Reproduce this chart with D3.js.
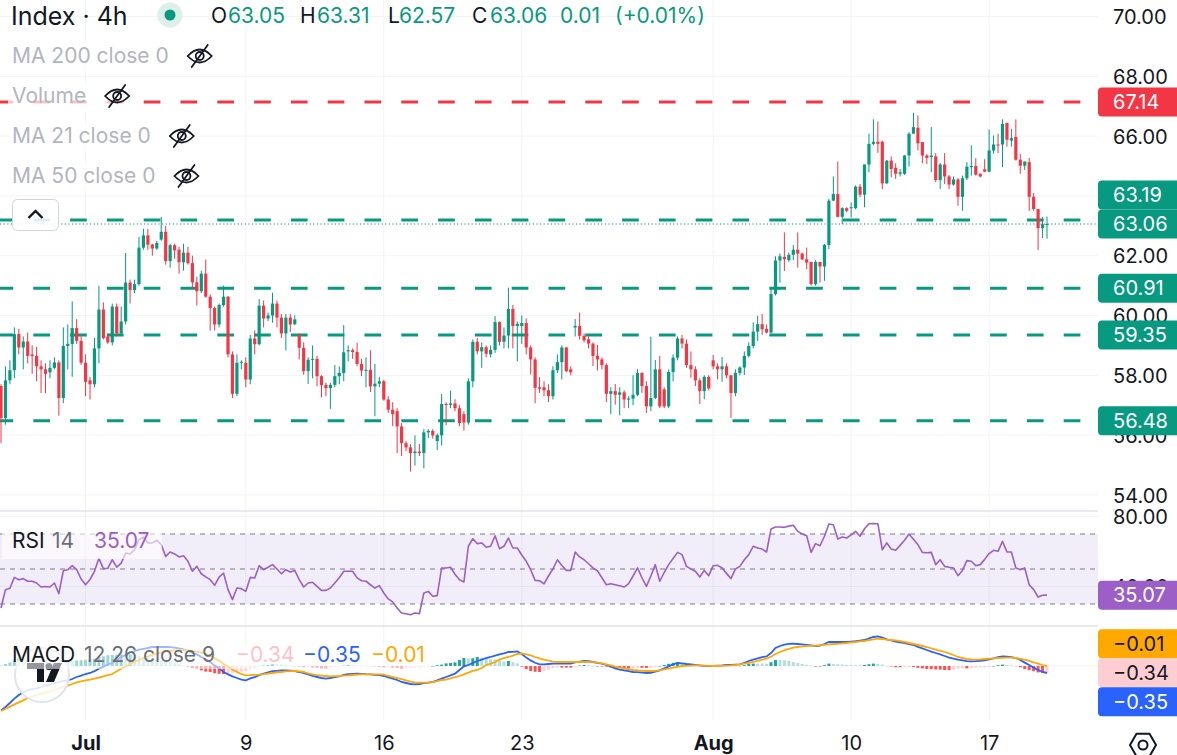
<!DOCTYPE html>
<html>
<head>
<meta charset="utf-8">
<script src="https://d3js.org/d3.v7.min.js"></script>
<style>
html, body { margin: 0; padding: 0; background: #fff; }
svg { display: block; font-family: Inter, Roboto, "Noto Sans", sans-serif; }
</style>
</head>
<body>
<svg id="chart"></svg>
<script>
"use strict";

// ---------- data (4h candles) ----------
const open = [
57.64,56.57,57.83,58.17,59.38,58.93,59.13,58.7,58.65,58.3,
58.2,58.1,58.25,58.43,57.24,58.98,59.05,59.58,59.15,58.42,
57.83,57.7,58.9,60.2,59.3,59.1,60.3,59.4,59.8,61.1,
60.85,61.05,62.27,62.68,62.37,62.24,62.54,62.8,61.82,62.35,
62.2,61.78,62.1,61.75,61.11,60.81,61.4,60.63,60.25,59.7,
60.35,60.63,58.7,57.38,58.42,58.42,57.86,59.23,59.04,60.33,
59.9,60.0,60.4,59.93,59.4,59.93,59.7,59.35,58.92,58.14,
58.52,58.55,57.97,57.68,57.57,57.68,57.97,58.08,58.8,58.84,
58.78,58.38,58.16,58.18,57.63,57.72,57.8,57.19,56.85,56.8,
56.29,55.73,55.59,55.4,55.45,55.4,56.09,56.14,55.8,55.99,
57.04,57.01,57.06,56.9,56.7,56.42,57.8,59.12,58.8,58.94,
58.7,58.85,59.78,59.12,59.33,60.22,59.65,59.65,
59.75,58.93,58.53,57.6,57.6,57.5,57.3,58.17,58.44,58.93,
58.2,59.6,59.65,59.32,59.2,59.06,58.65,58.53,58.34,57.38,
57.47,57.35,57.43,57.19,57.22,57.35,58.08,57.64,56.96,57.24,
58.2,57.53,56.96,58.11,58.59,59.23,59.06,58.34,58.2,57.83,
57.47,57.95,58.5,58.3,58.2,58.3,58.0,57.41,58.08,58.26,
58.65,58.98,59.46,59.71,59.55,59.43,60.72,61.84,61.96,
61.85,62.03,62.2,62.07,61.88,61.79,61.05,61.79,61.64,62.36,
63.84,64.06,63.30,63.59,63.59,63.59,64.31,64.04,65.05,65.74,
65.81,65.81,64.42,65.18,64.94,64.74,64.74,65.35,66.08,66.28,
65.80,65.35,65.30,65.32,64.53,65.05,64.65,64.38,64.55,63.97,
64.59,64.96,65.00,64.74,64.89,64.81,65.52,65.72,65.72,66.44,
65.85,65.97,65.21,65.01,65.13,63.97,63.56,62.92,63.05
];
const high = [
57.7,58.3,58.5,59.6,59.55,59.3,59.43,59.0,58.95,58.5,
58.4,58.5,58.6,58.5,59.6,59.7,60.47,59.88,59.3,58.7,
57.95,59.25,61.0,60.44,59.4,60.4,60.4,60.3,62.09,61.2,
61.2,62.63,62.9,62.9,62.4,62.5,63.3,63.0,62.4,62.4,
62.3,62.4,62.3,62.0,61.3,61.5,61.87,60.7,60.3,60.4,
61.0,60.65,58.8,58.7,58.5,58.6,59.35,59.5,60.55,60.5,
60.1,60.76,60.5,60.05,60.05,60.05,60.0,59.4,59.1,58.6,
59.0,58.65,58.0,57.75,57.75,58.34,58.3,59.68,59.0,58.9,
59.09,58.55,58.6,58.84,58.38,57.95,57.85,57.3,57.1,56.9,
56.4,55.8,55.7,55.99,55.7,56.2,56.2,56.2,56.05,57.37,
57.1,57.49,57.2,57.0,56.8,57.9,59.2,59.25,59.1,59.0,
59.0,59.98,59.8,59.6,60.93,60.35,59.8,60.0,
59.9,59.0,58.6,57.94,57.8,57.7,58.3,58.7,59.0,58.95,
58.3,59.88,60.1,59.4,59.3,59.1,59.02,58.6,58.4,57.6,
57.71,57.6,57.5,57.3,58.0,58.2,58.1,57.8,59.29,58.51,
58.65,57.6,58.2,58.7,59.3,59.35,59.2,58.8,58.3,57.9,
58.0,58.0,58.68,58.4,58.61,58.4,58.0,58.2,58.3,58.8,
59.1,59.77,59.99,60.05,59.7,60.9,61.98,62.07,62.78,
62.1,62.36,62.78,62.1,62.27,61.8,61.85,61.8,62.4,63.9,
64.65,65.15,63.62,63.62,63.78,64.35,64.4,65.05,66.08,66.56,
66.49,65.85,65.2,65.32,65.09,64.9,65.37,66.13,66.78,66.69,
65.8,65.4,66.30,65.43,65.1,65.43,64.7,64.65,64.6,64.68,
65.13,65.69,65.26,64.75,65.23,66.22,66.02,66.08,66.56,66.45,
66.25,66.56,65.41,65.15,65.27,64.1,63.56,63.30,63.31
];
const low = [
55.73,56.35,57.7,57.9,58.7,58.2,58.4,58.05,57.8,57.41,
57.4,57.9,58.2,56.65,57.07,58.2,57.95,59.05,58.35,57.3,
57.19,57.6,58.4,59.2,59.05,59.0,59.3,59.35,59.7,60.4,
60.75,61.0,62.2,62.2,62.0,62.2,62.5,61.7,61.6,61.9,
61.4,61.5,61.7,60.9,60.33,60.75,60.6,59.49,59.5,59.6,
60.3,58.6,57.24,57.3,58.2,57.6,57.7,58.7,59.0,59.6,
59.81,59.76,59.6,59.25,58.83,59.45,59.7,58.53,58.02,57.71,
57.9,57.63,57.26,57.3,56.88,57.6,57.7,57.8,58.47,58.55,
58.3,57.97,57.6,57.44,56.63,57.6,57.15,56.74,56.3,55.4,
55.3,55.47,54.78,54.98,55.3,54.89,55.9,55.88,55.5,55.65,
56.33,56.9,56.8,56.3,56.15,56.35,57.6,58.7,58.25,58.6,
58.6,58.75,59.0,58.9,58.9,58.9,58.47,59.05,
58.7,58.03,57.07,57.41,57.3,57.11,57.19,58.08,57.86,58.1,
58.0,59.3,59.2,59.1,58.9,58.31,58.16,58.2,57.1,56.7,
57.02,56.66,56.9,56.9,57.0,57.3,57.41,56.74,56.8,57.2,
56.9,56.9,56.9,57.8,58.5,58.9,58.25,57.92,57.64,57.04,
57.2,57.5,58.2,57.86,57.78,57.9,56.57,57.3,58.0,58.01,
58.59,58.9,59.15,59.35,59.4,59.4,60.67,61.1,61.49,
61.8,61.85,61.6,61.85,61.55,61.0,61.0,61.1,61.16,62.22,
63.84,63.28,63.06,63.45,63.28,63.55,63.95,63.62,64.79,65.69,
65.44,64.23,64.4,64.62,64.57,64.65,64.7,64.98,66.08,65.52,
65.09,65.07,64.79,64.46,64.23,64.40,64.23,64.34,63.67,63.50,
64.53,64.68,64.68,64.62,64.79,64.79,65.41,65.43,64.96,65.65,
65.65,65.18,64.74,64.87,63.50,63.50,62.19,62.59,62.57
];
const close = [
56.57,57.83,58.17,59.38,58.93,59.13,58.65,58.65,58.3,58.2,
58.05,58.25,58.43,57.24,58.98,59.05,59.58,59.15,58.42,57.78,
57.7,58.9,60.2,59.24,59.1,60.3,59.4,59.8,61.1,60.85,
61.05,62.27,62.68,62.37,62.24,62.43,62.8,61.82,62.35,62.18,
61.78,62.1,61.75,61.11,60.81,61.4,60.63,60.25,59.7,60.35,
60.63,58.7,57.38,58.42,58.45,57.86,59.23,59.04,60.33,59.9,
60.0,60.4,59.93,59.4,59.93,59.7,59.87,58.92,58.14,58.52,
58.55,57.97,57.67,57.57,57.68,57.97,58.08,58.77,58.84,58.78,
58.38,58.16,58.18,57.63,57.72,57.8,57.19,56.85,56.7,56.29,
55.73,55.59,55.4,55.45,55.4,56.09,56.14,55.99,56.0,57.04,
57.01,57.06,56.9,56.4,56.42,57.8,59.12,58.8,58.94,58.72,
58.85,59.78,59.12,59.33,60.22,59.65,59.72,59.75,
58.93,58.53,57.58,57.55,57.5,57.3,58.17,58.44,58.93,58.14,
58.1,59.65,59.32,59.17,59.06,58.65,58.53,58.34,57.38,57.47,
57.35,57.43,57.19,57.22,57.35,58.08,57.64,56.96,57.24,58.2,
56.96,56.96,58.11,58.59,59.23,59.06,58.34,58.2,57.83,57.47,
57.95,57.56,58.3,58.2,58.3,58.0,57.41,58.08,58.26,58.65,
58.98,59.46,59.71,59.54,59.43,60.72,61.84,61.98,61.88,
62.03,62.2,62.07,61.88,61.77,61.05,61.79,61.64,62.36,63.84,
64.06,63.30,63.59,63.5,63.62,64.31,64.04,65.05,65.74,65.81,
65.74,64.42,65.18,64.90,64.74,64.79,65.35,66.08,66.30,65.76,
65.35,65.27,65.35,64.53,65.05,64.65,64.38,64.55,63.97,64.59,
64.98,65.0,64.71,64.65,64.81,65.52,65.72,65.69,66.41,65.88,
65.93,65.21,65.01,65.15,63.97,63.56,62.92,63.052,63.06
];

// RSI 14, one value per candle
const rsi = [
27.7,38.2,39,45.2,43.9,44.5,43,43,42,39.7,
40,39.7,42,35.9,49,49.6,51.9,49.6,44.3,41,
44,48.7,56.1,50.2,50.4,55.3,51.1,53.4,59.1,58.6,
61,66.8,68.3,64.9,64.9,66.4,63.9,57.2,59.7,58.6,
56.9,57.6,54.4,48.7,51.5,47.3,45.5,43.9,40.7,45.4,
47.7,38.2,32.5,39.1,38.8,37.2,45.2,44.9,51.9,49.6,
51,52.5,50,47.3,49.6,48.3,49.2,43.9,39.7,42,
42.4,40.1,37.8,37.8,39.1,42,45,48.7,48.7,48.7,
44.9,43.3,43,41,39.1,40.5,36.3,32.9,31.2,27.7,
24.9,24.4,23.9,24.9,24.5,36.3,37.2,34.4,34.8,50.6,
50.6,51,47,43.9,42.6,63,67.3,64.5,64.9,62.4,
63,69,61.6,63,67.7,62,62,58,54.4,49.6,
43.5,43.3,41.5,46,50,55.3,52,49.2,49.2,59.7,
56.9,55.3,53,50.6,49,45,41,41.6,41,40.4,
39.7,41.6,46,50.6,45,40.1,46,52.5,43,48,
52.5,56,59.5,58.2,51.5,50,48.7,45.4,49.2,46.2,
51.9,52.1,50.6,47.5,44.5,50,51.5,55.3,58.2,63,
62,61.4,59.7,72.9,74,74,73.8,74.5,75,71.5,
70,69,59.5,64.5,63.3,68.7,75.7,75.3,67.1,68.3,
67.7,69.5,71.5,68.7,73,75.9,76,75.9,61,64.9,
61.4,60.7,63.5,66.4,70,67,63.9,59.5,59.3,59.5,
52.5,55.3,51.5,51,50.6,46.2,49.2,54.8,54.4,51.9,
52.5,55.5,58.8,60.7,60.1,65.8,59.7,59.7,50.6,49.6,
50.6,41,38.2,34,35,35.07
];

// MACD 12 26 close 9: macd line and signal line, one value per candle
const macd = [
-2.22,-2.05,-1.85,-1.63,-1.45,-1.32,-1.22,-1.15,-1.12,-1.05,
-0.97,-0.92,-0.85,-0.8,-0.74,-0.72,-0.65,-0.55,-0.48,-0.4,
-0.35,-0.26,-0.13,-0.03,0.08,0.15,0.3,0.45,0.55,0.68,
0.74,0.82,0.86,0.9,0.95,0.96,0.95,0.95,0.94,0.92,
0.88,0.83,0.75,0.66,0.58,0.45,0.34,0.2,0.02,-0.12,
-0.3,-0.42,-0.52,-0.6,-0.68,-0.72,-0.62,-0.56,-0.46,-0.38,
-0.32,-0.26,-0.24,-0.22,-0.22,-0.23,-0.25,-0.3,-0.36,-0.42,
-0.5,-0.55,-0.6,-0.63,-0.6,-0.56,-0.52,-0.45,-0.41,-0.39,
-0.38,-0.39,-0.41,-0.42,-0.44,-0.46,-0.5,-0.57,-0.63,-0.7,
-0.8,-0.85,-0.9,-0.92,-0.9,-0.85,-0.83,-0.8,-0.72,-0.63,
-0.55,-0.47,-0.38,-0.2,-0.02,0.05,0.15,0.25,0.32,0.4,
0.45,0.52,0.58,0.63,0.7,0.71,0.73,0.6,0.42,0.28,
0.16,0.08,0.08,0.1,0.12,0.12,0.12,0.12,0.12,0.18,
0.22,0.25,0.24,0.2,0.16,0.12,0.05,-0.03,-0.12,-0.18,
-0.22,-0.26,-0.3,-0.31,-0.33,-0.35,-0.34,-0.28,-0.22,-0.12,
-0.02,0.08,0.15,0.13,0.1,0.08,0.06,0.03,0.01,0,
0,0.02,0.03,0.05,0.06,0.07,0.08,0.16,0.25,0.32,
0.38,0.44,0.48,0.65,0.9,1.0,1.07,1.11,1.12,1.1,
1.08,1.06,1.03,1.0,1.02,1.1,1.2,1.2,1.2,1.2,
1.2,1.22,1.24,1.27,1.3,1.38,1.45,1.48,1.42,1.33,
1.28,1.22,1.18,1.15,1.1,1.05,0.96,0.88,0.8,0.72,
0.65,0.58,0.5,0.42,0.37,0.32,0.28,0.24,0.23,0.24,
0.26,0.28,0.33,0.38,0.44,0.48,0.47,0.44,0.4,0.3,
0.17,0.05,-0.08,-0.2,-0.3,-0.35
];
const signal = [
-2.25,-2.15,-2.03,-1.92,-1.82,-1.72,-1.6,-1.52,-1.45,-1.39,
-1.33,-1.28,-1.2,-1.13,-1.05,-0.98,-0.9,-0.82,-0.77,-0.72,
-0.68,-0.63,-0.58,-0.52,-0.46,-0.4,-0.26,-0.13,-0.02,0.1,
0.2,0.3,0.4,0.48,0.55,0.62,0.68,0.72,0.75,0.78,
0.79,0.79,0.78,0.76,0.72,0.67,0.62,0.5,0.38,0.27,
0.1,-0.02,-0.18,-0.3,-0.4,-0.47,-0.46,-0.44,-0.43,-0.41,
-0.38,-0.35,-0.32,-0.3,-0.27,-0.26,-0.25,-0.27,-0.3,-0.37,
-0.42,-0.46,-0.48,-0.5,-0.52,-0.51,-0.5,-0.48,-0.47,-0.45,
-0.43,-0.42,-0.42,-0.42,-0.42,-0.42,-0.43,-0.5,-0.55,-0.6,
-0.66,-0.72,-0.78,-0.82,-0.83,-0.83,-0.82,-0.8,-0.76,-0.7,
-0.68,-0.62,-0.56,-0.5,-0.42,-0.33,-0.24,-0.2,-0.1,0.05,
0.12,0.2,0.32,0.4,0.45,0.52,0.6,0.63,0.58,0.53,
0.45,0.38,0.32,0.27,0.22,0.2,0.2,0.2,0.2,0.2,
0.2,0.2,0.2,0.19,0.17,0.13,0.08,0.03,-0.03,-0.08,
-0.12,-0.16,-0.2,-0.22,-0.24,-0.25,-0.25,-0.24,-0.22,-0.17,
-0.13,-0.08,-0.04,0,0.01,0.02,0.03,0.03,0.02,0.01,
0,0,0.01,0.02,0.03,0.05,0.08,0.12,0.15,0.2,
0.26,0.32,0.37,0.46,0.6,0.7,0.78,0.86,0.92,0.95,
0.98,1.0,1.01,1.02,1.04,1.06,1.08,1.1,1.11,1.13,
1.15,1.18,1.2,1.23,1.25,1.29,1.33,1.37,1.35,1.32,
1.3,1.28,1.24,1.2,1.15,1.1,1.05,1.0,0.95,0.88,
0.82,0.76,0.7,0.63,0.55,0.45,0.4,0.36,0.33,0.32,
0.33,0.35,0.37,0.38,0.4,0.41,0.42,0.42,0.4,0.36,
0.32,0.26,0.18,0.12,0.05,-0.01
];

// time axis: candle index of each label
const tickIdx = [19, 55, 86, 117, 160, 191, 222];
const tickText = ["Jul", "9", "16", "23", "Aug", "10", "17"];

const priceTicks = [54, 56, 58, 60, 62, 64, 66, 68, 70];
const rsiTicks = [40, 80];
const rsiLevels = [30, 50, 70];
const levels = [67.14, 63.19, 60.91, 59.35, 56.48];
const maLegend = ["MA 200 close 0", "Volume", "MA 21 close 0", "MA 50 close 0"];

// ---------- layout / style ----------
const W = 1177, H = 755;
const PLOT_R = 1098;
const UP = "#089981", DOWN = "#f23645";
const GRID = "#f0f3fa", TEXT = "#131722", MUTED = "#6a6d78";
const RSI_COLOR = "#9c5fc8", MACD_COLOR = "#2962ff", SIGNAL_COLOR = "#ffa800";
const levelColors = [DOWN, UP, UP, UP, UP];
const LABEL_H = 29;
const FS = 20;
const LEG_FS = 21;
const fmt = d3.format(".2f");

const svg = d3.select("#chart").attr("width", W).attr("height", H);

const N = close.length;
const x = d3.scaleLinear().domain([0, N - 1]).range([1, 1047]);
const yP = d3.scaleLinear().domain([54, 70]).range([494.9, 16.5]);
const yR = d3.scaleLinear().domain([30, 70]).range([604, 534]);
const yM = d3.scaleLinear().domain([-1, 1]).range([686, 646]);
const candleW = 3.2;

function eyeSlash(g, cx, cy) {
    const ic = g.append("g").attr("fill", "none").attr("stroke", TEXT)
        .attr("stroke-width", 1.8).attr("stroke-linecap", "round");
    ic.append("path")
        .attr("d", `M${cx - 12},${cy} Q${cx},${cy - 13} ${cx + 12},${cy} Q${cx},${cy + 13} ${cx - 12},${cy}`);
    ic.append("circle").attr("cx", cx).attr("cy", cy).attr("r", 4);
    ic.append("line").attr("x1", cx - 8).attr("y1", cy + 11).attr("x2", cx + 8).attr("y2", cy - 11);
}

// keep the anchor label in place and stack the others around it
function stackLabels(labels, anchor) {
    labels.sort((a, b) => a.y - b.y);
    const k = labels.indexOf(anchor);
    for (let i = k - 1; i >= 0; i--) {
        labels[i].y = Math.min(labels[i].y, labels[i + 1].y - LABEL_H);
    }
    for (let i = k + 1; i < labels.length; i++) {
        labels[i].y = Math.max(labels[i].y, labels[i - 1].y + LABEL_H);
    }
    return labels;
}

function drawLabels(g, labels) {
    for (let l of labels) {
        const t = l.y - LABEL_H / 2, b = l.y + LABEL_H / 2;
        g.append("path")
            .attr("d", `M${PLOT_R + 4},${t} H${W} V${b} H${PLOT_R + 4} Q${PLOT_R},${b} ${PLOT_R},${b - 4} V${t + 4} Q${PLOT_R},${t} ${PLOT_R + 4},${t} Z`)
            .attr("fill", l.fill);
        g.append("text")
            .attr("x", 1113).attr("y", l.y).attr("dy", "0.36em")
            .attr("font-size", FS).attr("fill", l.color)
            .text(l.text);
    }
}

// a legend line: pieces of [text, colour, left x]
function textRow(g, y0, pieces) {
    const t = g.append("text").attr("y", y0).attr("font-size", LEG_FS);
    for (let [s, c, px] of pieces) {
        t.append("tspan").attr("x", px).attr("fill", c).text(s);
    }
    return t;
}

function run() {
    // ---- grid ----
    const grid = svg.append("g").attr("stroke", GRID).attr("stroke-width", 1);
    for (let t of tickIdx) {
        grid.append("line").attr("x1", x(t)).attr("x2", x(t)).attr("y1", 0).attr("y2", 720);
    }
    for (let p of priceTicks) {
        grid.append("line").attr("x1", 0).attr("x2", PLOT_R).attr("y1", yP(p)).attr("y2", yP(p));
    }
    for (let r of rsiTicks) {
        grid.append("line").attr("x1", 0).attr("x2", PLOT_R).attr("y1", yR(r)).attr("y2", yR(r));
    }
    grid.append("line").attr("x1", 0).attr("x2", PLOT_R).attr("y1", yM(0)).attr("y2", yM(0));

    // pane separators
    svg.append("g").attr("stroke", "#e0e3eb").attr("stroke-width", 1.5)
        .selectAll("line").data([511, 626]).join("line")
        .attr("x1", 0).attr("x2", PLOT_R).attr("y1", d => d).attr("y2", d => d);

    // ---- horizontal levels ----
    svg.append("g").selectAll("line").data(levels).join("line")
        .attr("x1", 0).attr("x2", PLOT_R)
        .attr("y1", d => yP(d)).attr("y2", d => yP(d))
        .attr("stroke", (d, i) => levelColors[i])
        .attr("stroke-width", 3)
        .attr("stroke-dasharray", "16.7 20.1")
        .attr("stroke-dashoffset", 3.5);

    // ---- candles ----
    const candles = svg.append("g");
    for (let i = 0; i < N; i++) {
        const col = close[i] >= open[i] ? UP : DOWN;
        candles.append("line")
            .attr("x1", x(i)).attr("x2", x(i))
            .attr("y1", yP(high[i])).attr("y2", yP(low[i]))
            .attr("stroke", col).attr("stroke-width", 1);
        const top = yP(Math.max(open[i], close[i]));
        const bot = yP(Math.min(open[i], close[i]));
        candles.append("rect")
            .attr("x", x(i) - candleW / 2).attr("width", candleW)
            .attr("y", top).attr("height", Math.max(1, bot - top))
            .attr("fill", col);
    }

    // current price line
    const last = close[N - 1];
    const lastCol = close[N - 1] >= open[N - 1] ? UP : DOWN;
    svg.append("line")
        .attr("x1", 0).attr("x2", PLOT_R).attr("y1", yP(last)).attr("y2", yP(last))
        .attr("stroke", lastCol).attr("stroke-width", 1).attr("stroke-dasharray", "1.2 2.4");

    // ---- RSI pane ----
    svg.append("rect")
        .attr("x", 0).attr("width", PLOT_R)
        .attr("y", yR(70)).attr("height", yR(30) - yR(70))
        .attr("fill", "rgba(126,87,194,0.1)");
    svg.append("g").selectAll("line").data(rsiLevels).join("line")
        .attr("x1", 0).attr("x2", PLOT_R)
        .attr("y1", d => yR(d)).attr("y2", d => yR(d))
        .attr("stroke", "#787b86").attr("stroke-width", 1).attr("stroke-dasharray", "5 5");
    svg.append("path")
        .datum(rsi)
        .attr("fill", "none").attr("stroke", RSI_COLOR).attr("stroke-width", 1.6)
        .attr("stroke-linejoin", "round")
        .attr("d", d3.line().x((d, i) => x(i)).y(d => yR(d)));

    // ---- MACD pane ----
    const hist = macd.map((m, i) => m - signal[i]);
    svg.append("g").selectAll("rect").data(hist).join("rect")
        .attr("x", (d, i) => x(i) - 1.5).attr("width", 3)
        .attr("y", d => Math.min(yM(d), yM(0)))
        .attr("height", d => Math.max(0.5, Math.abs(yM(d) - yM(0))))
        .attr("fill", (d, i) => {
            const prev = i > 0 ? hist[i - 1] : d;
            if (d >= 0) return prev < d ? "#26a69a" : "#b2dfdb";
            return prev < d ? "#ffcdd2" : "#ff5252";
        });
    const lineM = d3.line().x((d, i) => x(i)).y(d => yM(d));
    svg.append("path").datum(macd)
        .attr("fill", "none").attr("stroke", MACD_COLOR).attr("stroke-width", 1.8).attr("d", lineM);
    svg.append("path").datum(signal)
        .attr("fill", "none").attr("stroke", SIGNAL_COLOR).attr("stroke-width", 1.8).attr("d", lineM);

    // TradingView badge (sits under the MACD legend)
    const tv = svg.append("g");
    tv.append("circle").attr("cx", 42).attr("cy", 675).attr("r", 27)
        .attr("fill", "rgba(255,255,255,0.85)").attr("stroke", "#e0e3eb").attr("stroke-width", 2);
    tv.append("path").attr("d", "M27,663 H44 V682 H37 V669 H27 Z").attr("fill", TEXT);
    tv.append("circle").attr("cx", 49).attr("cy", 666.5).attr("r", 3.6).attr("fill", TEXT);
    tv.append("path").attr("d", "M54,663 H62 L54,682 H46 Z").attr("fill", TEXT);

    // ---- legends ----
    const leg = svg.append("g");
    leg.append("text").attr("x", 11).attr("y", 25)
        .attr("font-size", 25).attr("fill", TEXT).text("Index · 4h");
    leg.append("circle").attr("cx", 170).attr("cy", 15).attr("r", 12.5).attr("fill", "#dcefeb");
    leg.append("circle").attr("cx", 170).attr("cy", 15).attr("r", 5.5).attr("fill", UP);
    const chg = close[N - 1] - close[N - 2];
    textRow(leg, 23, [
        ["O", TEXT, 211], [fmt(open[N - 1]), UP, 228],
        ["H", TEXT, 300], [fmt(high[N - 1]), UP, 317],
        ["L", TEXT, 388], [fmt(low[N - 1]), UP, 399],
        ["C", TEXT, 472], [fmt(close[N - 1]), UP, 490],
        [fmt(chg), UP, 560],
        [`(${chg >= 0 ? "+" : ""}${fmt(chg / close[N - 2] * 100)}%)`, UP, 615]
    ]);

    const rowsY = [63, 103, 143, 183];
    maLegend.forEach((t, i) => {
        const row = leg.append("g");
        const bg = row.append("rect").attr("fill", "#fff").attr("opacity", 0.7);
        const txt = row.append("text").attr("x", 12).attr("y", rowsY[i])
            .attr("font-size", LEG_FS).attr("fill", "#b2b5be").text(t);
        const w = txt.node().getComputedTextLength();
        bg.attr("x", 8).attr("y", rowsY[i] - 20).attr("width", w + 52).attr("height", 28);
        eyeSlash(row, 12 + w + 31, rowsY[i] - 7);
    });

    // collapse button
    leg.append("rect").attr("x", 12.5).attr("y", 199.5).attr("width", 46).attr("height", 31)
        .attr("rx", 5).attr("fill", "rgba(255,255,255,0.85)").attr("stroke", "#d1d4dc");
    leg.append("path").attr("d", "M28.5,218 L35.5,211 L42.5,218")
        .attr("fill", "none").attr("stroke", TEXT).attr("stroke-width", 2.4);

    // RSI legend
    leg.append("rect").attr("x", 2).attr("y", 532).attr("width", 160).attr("height", 27)
        .attr("fill", "#fff").attr("opacity", 0.6);
    textRow(leg, 548, [["RSI", TEXT, 12], ["14", MUTED, 52], [fmt(rsi[N - 1]), RSI_COLOR, 94]]);

    // MACD legend
    leg.append("rect").attr("x", 2).attr("y", 645).attr("width", 428).attr("height", 24)
        .attr("fill", "#fff").attr("opacity", 0.55);
    textRow(leg, 662, [
        ["MACD", TEXT, 12], ["12 26 close 9", MUTED, 84],
        [fmt(hist[N - 1]), "#ffc2c8", 236], [fmt(macd[N - 1]), MACD_COLOR, 303],
        [fmt(signal[N - 1]), SIGNAL_COLOR, 371]
    ]);

    // ---- scale labels (computed first so covered tick texts can be left out) ----
    const priceLabels = levels.map((v, i) => ({ y: yP(v), text: fmt(v), fill: levelColors[i], color: "#fff" }));
    const lastLabel = { y: yP(last), text: fmt(last), fill: lastCol, color: "#fff" };
    priceLabels.push(lastLabel);
    stackLabels(priceLabels, lastLabel);
    const rsiLabels = [{ y: yR(rsi[N - 1]), text: fmt(rsi[N - 1]), fill: RSI_COLOR, color: "#fff" }];
    const histLabel = { y: yM(hist[N - 1]), text: fmt(hist[N - 1]), fill: "#ffcdd2", color: TEXT };
    const macdLabels = [
        { y: yM(signal[N - 1]), text: fmt(signal[N - 1]), fill: SIGNAL_COLOR, color: TEXT },
        histLabel,
        { y: yM(macd[N - 1]) + 0.01, text: fmt(macd[N - 1]), fill: MACD_COLOR, color: "#fff" }
    ];
    stackLabels(macdLabels, histLabel);
    const covered = (yy, labels) => labels.some(l => Math.abs(l.y - yy) < 8);

    // ---- axes ----
    const pAxis = svg.append("g").attr("transform", `translate(${PLOT_R},0)`)
        .call(d3.axisRight(yP).tickValues(priceTicks.filter(p => !covered(yP(p), priceLabels)))
            .tickFormat(fmt).tickSize(0).tickPadding(15));
    const rAxis = svg.append("g").attr("transform", `translate(${PLOT_R},0)`)
        .call(d3.axisRight(yR).tickValues(rsiTicks.filter(r => !covered(yR(r), rsiLabels)))
            .tickFormat(fmt).tickSize(0).tickPadding(15));
    for (let a of [pAxis, rAxis]) {
        a.attr("font-family", null).attr("font-size", FS);
        a.select(".domain").remove();
        a.selectAll("text").attr("fill", TEXT).attr("dy", "0.36em");
    }
    const tAxis = svg.append("g").attr("transform", "translate(0,720)")
        .call(d3.axisBottom(x).tickValues(tickIdx).tickFormat((d, i) => tickText[i]).tickSize(0).tickPadding(16));
    tAxis.attr("font-family", null).attr("font-size", FS);
    tAxis.select(".domain").remove();
    tAxis.selectAll("text").attr("fill", TEXT)
        .attr("font-weight", d => isNaN(+tickText[tickIdx.indexOf(d)]) ? 700 : 400);

    // settings icon
    const hex = d3.range(6).map(k => [1143 + 13 * Math.cos(k * Math.PI / 3), 745 + 13 * Math.sin(k * Math.PI / 3)]);
    svg.append("path").attr("d", "M" + hex.join("L") + "Z")
        .attr("fill", "none").attr("stroke", TEXT).attr("stroke-width", 2).attr("stroke-linejoin", "round");
    svg.append("circle").attr("cx", 1143).attr("cy", 745).attr("r", 4.5)
        .attr("fill", "none").attr("stroke", TEXT).attr("stroke-width", 2);

    const lab = svg.append("g");
    drawLabels(lab, priceLabels);
    drawLabels(lab, rsiLabels);
    drawLabels(lab, macdLabels);
}

run();
</script>
</body>
</html>
